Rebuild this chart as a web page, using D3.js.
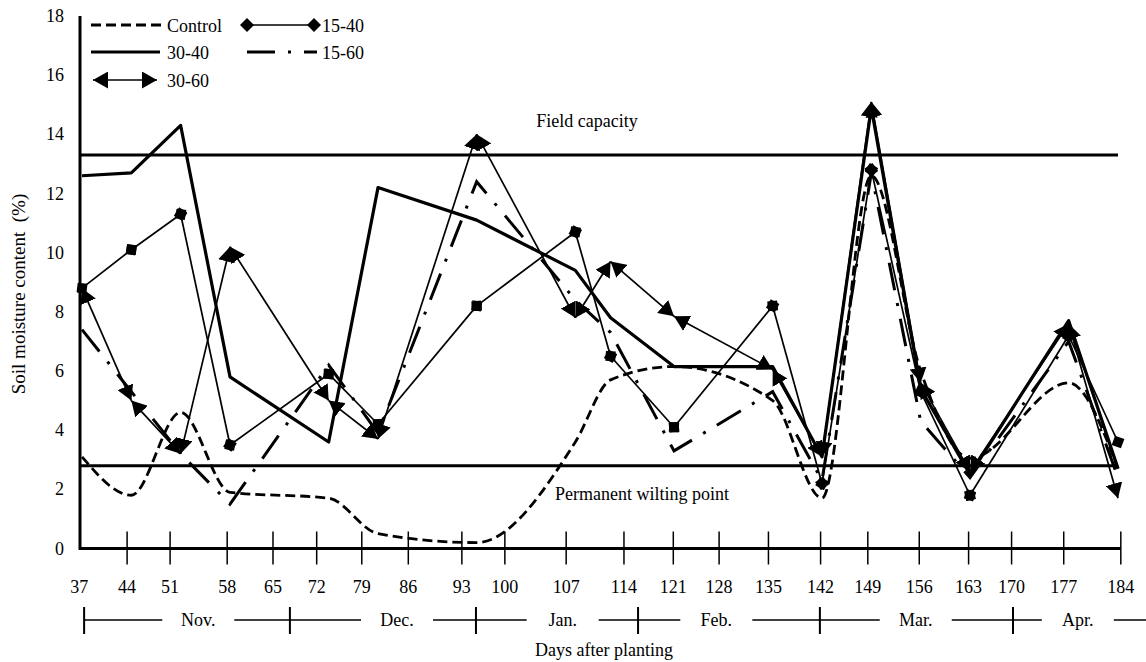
<!DOCTYPE html>
<html>
<head>
<meta charset="utf-8">
<script src="https://cdn.jsdelivr.net/npm/d3@7"></script>
<style>
  body { margin: 0; background: #fff; }
  svg { display: block; font-family: 'Liberation Serif', 'Times New Roman', serif; }
  text { fill: #000; white-space: pre; }
</style>
</head>
<body>
<script>
// sampling days (days after planting) and soil moisture (%) per treatment
const days = [37, 44, 51, 58, 72, 79, 93, 107, 112, 121, 135, 142, 149, 156, 163, 177, 184];
const control = [3.1, 1.8, 4.6, 1.9, 1.7, 0.5, 0.2, 3.6, 5.7, 6.15, 5.0, 1.7, 12.6, 6.0, 3.05, 5.6, 2.7];
const t1540 = [8.8, 10.1, 11.3, 3.5, 5.9, 4.2, 8.2, 10.7, 6.5, 4.1, 8.2, 2.2, 12.8, 5.3, 1.8, 7.2, 3.6];
const t3040 = [12.6, 12.7, 14.3, 5.8, 3.6, 12.2, 11.1, 9.4, 7.8, 6.15, 6.15, 3.1, 14.9, 5.4, 2.5, 7.7, 2.7];
const t1560 = [7.4, 5.3, 3.2, 1.5, 6.2, 3.9, 12.4, 8.4, 7.3, 3.3, 5.3, 2.3, 12.7, 4.3, 2.4, 7.0, 2.4];
const t3060 = [8.8, 5.0, 3.2, 10.2, 5.0, 3.7, 14.0, 7.8, 9.7, 7.85, 6.05, 3.1, 15.1, 5.6, 2.6, 7.6, 1.7];

const fieldCapacity = 13.3;
const wiltingPoint = 2.8;

// x tick labels, and where each one sits on the day axis (as placed in the original)
const tickLabels = [37, 44, 51, 58, 65, 72, 79, 86, 93, 100, 107, 114, 121, 128, 135, 142, 149, 156, 163, 170, 177, 184];
const tickAt = [36.6, 43.4, 49.5, 57.6, 64.1, 70.3, 76.7, 83.3, 90.9, 97.0, 105.7, 113.9, 120.9, 127.4, 134.4, 141.8, 148.5, 155.8, 162.8, 168.9, 176.3, 184.4];
const yTicks = [0, 2, 4, 6, 8, 10, 12, 14, 16, 18];

// month row
const months = ['Nov.', 'Dec.', 'Jan.', 'Feb.', 'Mar.', 'Apr.'];
const monthAt = [53.5, 81.7, 105.2, 127.0, 155.3, 178.3];
const monthEdges = [37.3, 66.5, 92.9, 115.9, 141.7, 169.1];
const monthEnd = 188;

const W = 1146, H = 662;
const svg = d3.select('body').append('svg').attr('width', W).attr('height', H);

const x = d3.scaleLinear().domain([37, 184]).range([82, 1118]);
const y = d3.scaleLinear().domain([0, 18]).range([548.5, 16]);

const defs = svg.append('defs');
defs.append('marker')
  .attr('id', 'arrow')
  .attr('viewBox', '0 0 15 17')
  .attr('refX', 15).attr('refY', 8.5)
  .attr('markerWidth', 15).attr('markerHeight', 17)
  .attr('markerUnits', 'userSpaceOnUse')
  .attr('orient', 'auto-start-reverse')
  .append('path').attr('d', 'M0,0L15,8.5L0,17Z').attr('fill', '#000');
defs.append('marker')
  .attr('id', 'diamond')
  .attr('viewBox', '0 0 14 14')
  .attr('refX', 7).attr('refY', 7)
  .attr('markerWidth', 14).attr('markerHeight', 14)
  .attr('markerUnits', 'userSpaceOnUse')
  .attr('orient', 'auto')
  .append('path').attr('d', 'M0,7L7,0L14,7L7,14Z').attr('fill', '#000');

// axes
svg.append('line').attr('x1', 80).attr('x2', 80).attr('y1', y(18)).attr('y2', y(0) + 1.5)
  .attr('stroke', '#000').attr('stroke-width', 3);
svg.append('line').attr('x1', 80).attr('x2', x(tickAt[tickAt.length - 1])).attr('y1', y(0)).attr('y2', y(0))
  .attr('stroke', '#000').attr('stroke-width', 3);

svg.selectAll('.ylab').data(yTicks).join('text')
  .attr('class', 'ylab')
  .attr('x', 64).attr('y', d => y(d) + 6)
  .attr('text-anchor', 'end').attr('font-size', 18)
  .text(d => d);

svg.selectAll('.xtick').data(tickAt.slice(1)).join('line')
  .attr('class', 'xtick')
  .attr('x1', d => x(d)).attr('x2', d => x(d))
  .attr('y1', y(0) - 17).attr('y2', y(0) + 16)
  .attr('stroke', '#000').attr('stroke-width', 1.5);

svg.selectAll('.xlab').data(tickLabels).join('text')
  .attr('class', 'xlab')
  .attr('x', (d, i) => x(tickAt[i])).attr('y', 593)
  .attr('text-anchor', 'middle').attr('font-size', 18)
  .text(d => d);

// month row
const my = 620;
svg.append('line').attr('x1', x(monthEdges[0])).attr('x2', x(monthEnd)).attr('y1', my).attr('y2', my)
  .attr('stroke', '#000').attr('stroke-width', 1.5);
svg.selectAll('.mbar').data(monthEdges).join('line')
  .attr('class', 'mbar')
  .attr('x1', d => x(d)).attr('x2', d => x(d))
  .attr('y1', my - 13).attr('y2', my + 14)
  .attr('stroke', '#000').attr('stroke-width', 2);
svg.selectAll('.mgap').data(monthAt).join('rect')
  .attr('class', 'mgap')
  .attr('x', d => x(d) - 36).attr('y', my - 5).attr('width', 72).attr('height', 10)
  .attr('fill', '#fff');
svg.selectAll('.mlab').data(months).join('text')
  .attr('class', 'mlab')
  .attr('x', (d, i) => x(monthAt[i])).attr('y', my + 6)
  .attr('text-anchor', 'middle').attr('font-size', 18)
  .text(d => d);

svg.append('text').attr('x', 604).attr('y', 656).attr('text-anchor', 'middle')
  .attr('font-size', 18).text('Days after planting');

svg.append('text')
  .attr('transform', `translate(25,294) rotate(-90)`)
  .attr('text-anchor', 'middle').attr('font-size', 19)
  .text('Soil moisture content  (%)');

// reference lines
svg.append('line').attr('x1', 80).attr('x2', 1118).attr('y1', y(fieldCapacity)).attr('y2', y(fieldCapacity))
  .attr('stroke', '#000').attr('stroke-width', 3);
svg.append('line').attr('x1', 80).attr('x2', 1118).attr('y1', y(wiltingPoint)).attr('y2', y(wiltingPoint))
  .attr('stroke', '#000').attr('stroke-width', 3);
svg.append('text').attr('x', 587).attr('y', 127).attr('text-anchor', 'middle')
  .attr('font-size', 18).text('Field capacity');
svg.append('text').attr('x', 642).attr('y', 500).attr('text-anchor', 'middle')
  .attr('font-size', 18).text('Permanent wilting point');

// series
const pts = vals => days.map((d, i) => [x(d), y(vals[i])]);
const line = d3.line();
const smooth = d3.line().curve(d3.curveMonotoneX);

svg.append('path').attr('d', smooth(pts(control)))
  .attr('fill', 'none').attr('stroke', '#000').attr('stroke-width', 2.8).attr('stroke-dasharray', '10 5');

svg.append('path').attr('d', line(pts(t3040)))
  .attr('fill', 'none').attr('stroke', '#000').attr('stroke-width', 3.2).attr('stroke-linejoin', 'round');

svg.append('path').attr('d', line(pts(t1560)))
  .attr('fill', 'none').attr('stroke', '#000').attr('stroke-width', 3).attr('stroke-dasharray', '28 13 3 13');

// segment-wise series, each segment carries its own end markers
function segments(vals) {
  const p = pts(vals);
  return d3.pairs(p);
}
svg.selectAll('.s1540').data(segments(t1540)).join('path')
  .attr('class', 's1540')
  .attr('d', d => line(d))
  .attr('fill', 'none').attr('stroke', '#000').attr('stroke-width', 1.7)
  .attr('marker-start', 'url(#diamond)').attr('marker-end', 'url(#diamond)');

svg.selectAll('.s3060').data(segments(t3060)).join('path')
  .attr('class', 's3060')
  .attr('d', d => line(d))
  .attr('fill', 'none').attr('stroke', '#000').attr('stroke-width', 1.7)
  .attr('marker-start', 'url(#arrow)').attr('marker-end', 'url(#arrow)');

// legend
const lg = svg.append('g');
lg.append('line').attr('x1', 91).attr('x2', 163).attr('y1', 25).attr('y2', 25)
  .attr('stroke', '#000').attr('stroke-width', 2.8).attr('stroke-dasharray', '10 5');
lg.append('line').attr('x1', 91).attr('x2', 160).attr('y1', 52).attr('y2', 52)
  .attr('stroke', '#000').attr('stroke-width', 3.2);
lg.append('line').attr('x1', 93).attr('x2', 157).attr('y1', 80).attr('y2', 80)
  .attr('stroke', '#000').attr('stroke-width', 1.7)
  .attr('marker-start', 'url(#arrow)').attr('marker-end', 'url(#arrow)');
lg.append('line').attr('x1', 247).attr('x2', 314).attr('y1', 25).attr('y2', 25)
  .attr('stroke', '#000').attr('stroke-width', 1.7)
  .attr('marker-start', 'url(#diamond)').attr('marker-end', 'url(#diamond)');
lg.append('line').attr('x1', 247).attr('x2', 317).attr('y1', 52).attr('y2', 52)
  .attr('stroke', '#000').attr('stroke-width', 3).attr('stroke-dasharray', '28 13 3 13');

const legendNames = ['Control', '30-40', '30-60', '15-40', '15-60'];
const legendX = [167, 167, 167, 322, 322];
const legendY = [32, 59, 87, 32, 59];
lg.selectAll('text').data(legendNames).join('text')
  .attr('x', (d, i) => legendX[i]).attr('y', (d, i) => legendY[i])
  .attr('font-size', 18).text(d => d);
</script>
</body>
</html>
